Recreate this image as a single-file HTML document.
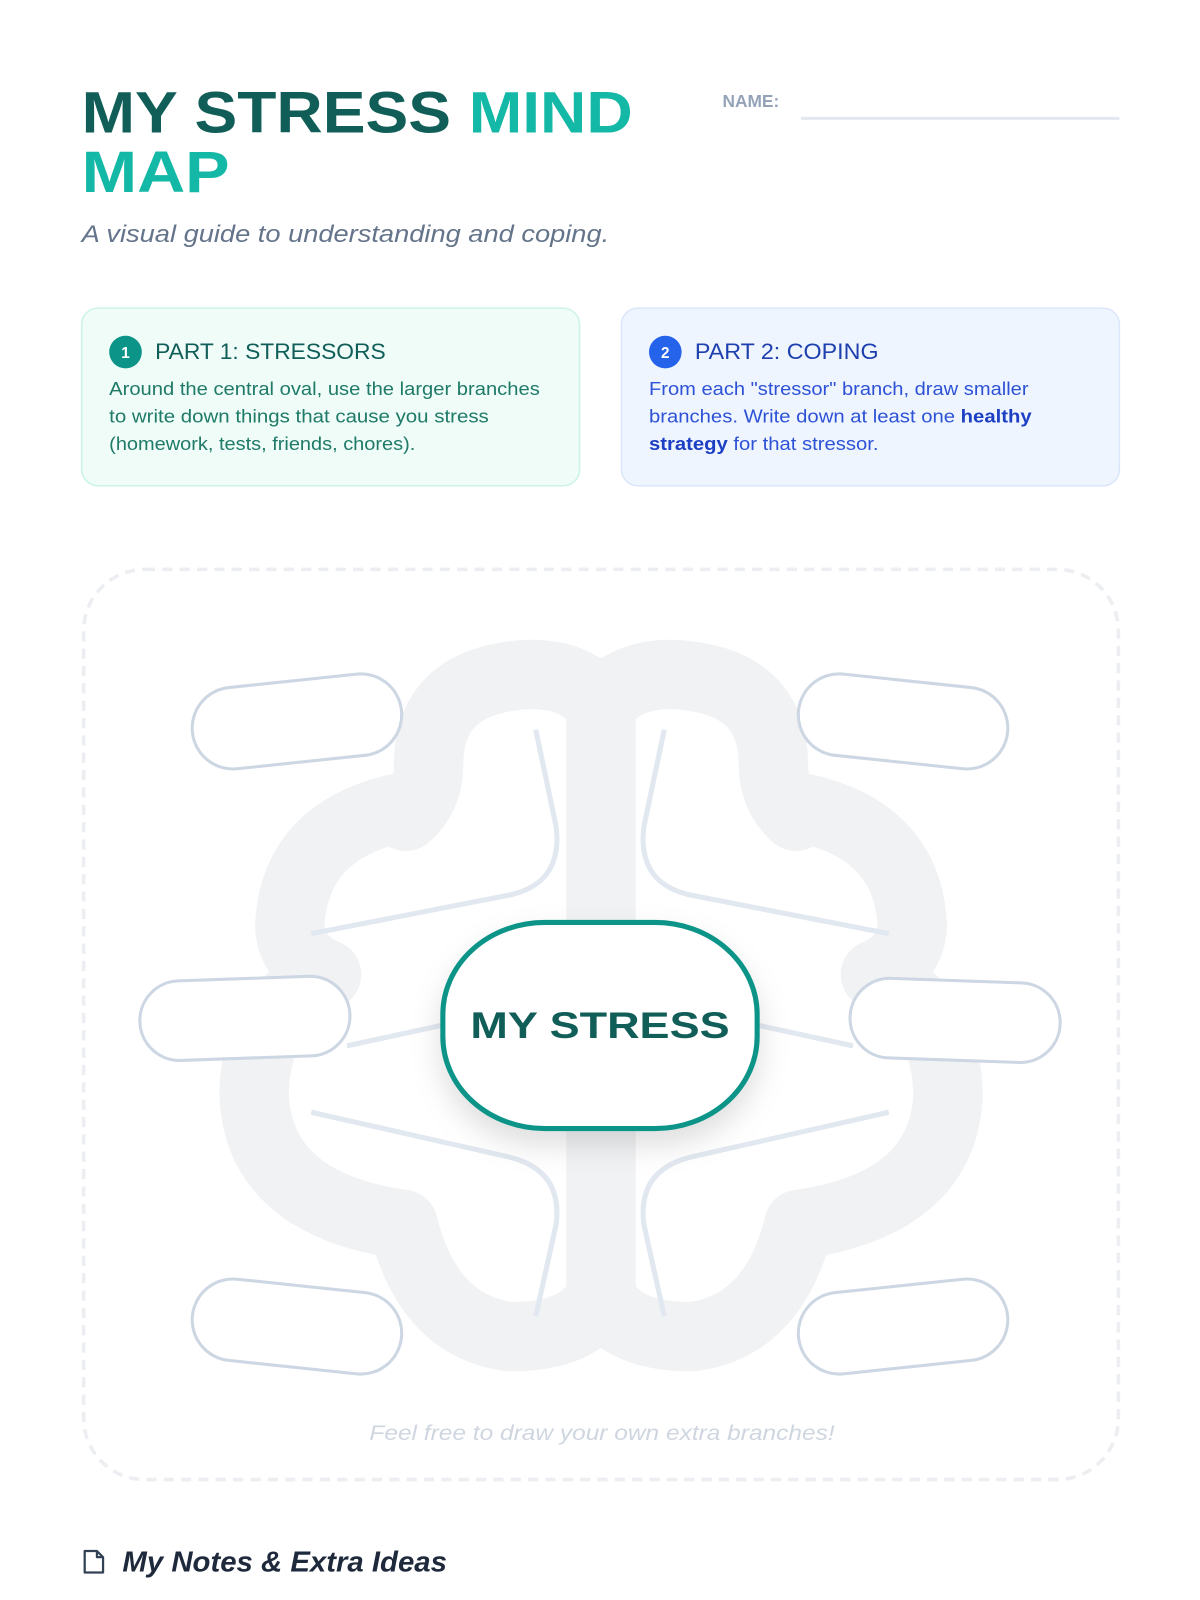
<!DOCTYPE html>
<html><head><meta charset="utf-8"><style>
html,body{margin:0;padding:0;background:#fff;}
svg{display:block;}
text{font-family:"Liberation Sans",sans-serif;}
</style></head><body>
<svg width="1200" height="1600" viewBox="0 0 1176 1568" xmlns="http://www.w3.org/2000/svg">
<defs>
<filter id="sh" x="-30%" y="-30%" width="160%" height="180%"><feDropShadow dx="0" dy="14" stdDeviation="14" flood-color="#000" flood-opacity="0.13"/></filter>
</defs>
<rect width="1176" height="1568" fill="#fff"/>
<!-- Title -->
<text x="80" y="130" font-size="57" font-weight="bold" fill="#115e59" textLength="540" lengthAdjust="spacingAndGlyphs">MY STRESS <tspan fill="#14b8a6">MIND</tspan></text>
<text x="80" y="188" font-size="57" font-weight="bold" fill="#14b8a6" textLength="145" lengthAdjust="spacingAndGlyphs">MAP</text>
<text x="80" y="237" font-size="24" font-style="italic" fill="#64748b" textLength="517" lengthAdjust="spacingAndGlyphs">A visual guide to understanding and coping.</text>
<text x="708" y="105" font-size="17" font-weight="bold" fill="#94a3b8">NAME:</text>
<line x1="785" y1="116" x2="1097" y2="116" stroke="#e2e8f0" stroke-width="3"/>
<!-- Cards -->
<rect x="80" y="302" width="488" height="174" rx="16" fill="#effcf8" stroke="#ccf3e8" stroke-width="1.5"/>
<circle cx="123" cy="345" r="16" fill="#0d9488"/>
<text x="123" y="351" font-size="15" font-weight="bold" fill="#fff" text-anchor="middle">1</text>
<text x="152" y="352" font-size="22" fill="#115e59" textLength="226" lengthAdjust="spacingAndGlyphs">PART 1: STRESSORS</text>
<g font-size="18" fill="#1f7a68">
<text x="107" y="387" textLength="422" lengthAdjust="spacingAndGlyphs">Around the central oval, use the larger branches</text>
<text x="107" y="414" textLength="372" lengthAdjust="spacingAndGlyphs">to write down things that cause you stress</text>
<text x="107" y="441" textLength="300" lengthAdjust="spacingAndGlyphs">(homework, tests, friends, chores).</text>
</g>
<rect x="609" y="302" width="488" height="174" rx="16" fill="#eff5ff" stroke="#dbe6fb" stroke-width="1.5"/>
<circle cx="652" cy="345" r="16" fill="#2563eb"/>
<text x="652" y="351" font-size="15" font-weight="bold" fill="#fff" text-anchor="middle">2</text>
<text x="681" y="352" font-size="22" fill="#1e40af" textLength="180" lengthAdjust="spacingAndGlyphs">PART 2: COPING</text>
<g font-size="18" fill="#2d52d6">
<text x="636" y="387" textLength="372" lengthAdjust="spacingAndGlyphs">From each "stressor" branch, draw smaller</text>
<text x="636" y="414" textLength="375" lengthAdjust="spacingAndGlyphs">branches. Write down at least one <tspan font-weight="bold" fill="#1d3fc4">healthy</tspan></text>
<text x="636" y="441" textLength="225" lengthAdjust="spacingAndGlyphs"><tspan font-weight="bold" fill="#1d3fc4">strategy</tspan> for that stressor.</text>
</g>
<!-- Dashed frame -->
<rect x="82" y="558" width="1014" height="892" rx="60" fill="none" stroke="#eceef2" stroke-width="3.5" stroke-dasharray="10 7"/>
<!-- Brain -->
<g stroke="#f1f2f4" stroke-width="68" fill="none" stroke-linecap="round">
<g id="half">
<path d="M589 690 Q555 650 487 665 Q420 680 420 750 Q420 780 398 800"/>
<path d="M400 790 Q290 810 284 905 Q284 940 320 955"/>
<path d="M320 955 Q249 990 249 1075 Q255 1180 395 1200"/>
<path d="M395 1200 Q420 1300 500 1310 Q570 1310 589 1270"/>
</g>
<use href="#half" transform="translate(1178,0) scale(-1,1)"/>
</g>
<rect x="555" y="690" width="68" height="600" fill="#f1f2f4"/>
<!-- Connectors -->
<g stroke="#e2e8f0" stroke-width="5" fill="none">
<g id="conn">
<path d="M525 715 L545 810 Q552 868 495 878 L305 915"/>
<path d="M340 1025 L432 1005"/>
<path d="M305 1090 L495 1133 Q552 1145 545 1200 L525 1290"/>
</g>
<use href="#conn" transform="translate(1176,0) scale(-1,1)"/>
</g>
<!-- Pills -->
<g fill="#fff" stroke="#cdd6e3" stroke-width="3">
<rect x="-103" y="-40" width="206" height="80" rx="40" transform="translate(291,707) rotate(-6)"/>
<rect x="-103" y="-40" width="206" height="80" rx="40" transform="translate(885,707) rotate(6)"/>
<rect x="-103" y="-39" width="206" height="78" rx="39" transform="translate(240,998) rotate(-2)"/>
<rect x="-103" y="-39" width="206" height="78" rx="39" transform="translate(936,1000) rotate(2)"/>
<rect x="-103" y="-40" width="206" height="80" rx="40" transform="translate(291,1300) rotate(6)"/>
<rect x="-103" y="-40" width="206" height="80" rx="40" transform="translate(885,1300) rotate(-6)"/>
</g>
<!-- Center -->
<rect x="434" y="904" width="308" height="202" rx="100" ry="90" fill="#fff" stroke="#0d9488" stroke-width="5" filter="url(#sh)"/>
<text x="588" y="1017" font-size="36" font-weight="bold" fill="#115e59" text-anchor="middle" textLength="254" lengthAdjust="spacingAndGlyphs">MY STRESS</text>
<text x="590" y="1411" font-size="21" font-style="italic" fill="#cfd6e0" text-anchor="middle" textLength="456" lengthAdjust="spacingAndGlyphs">Feel free to draw your own extra branches!</text>
<!-- Notes -->
<path d="M83 1520 h12 l6 6 v15 h-18 z M95 1520 v6 h6" fill="none" stroke="#334155" stroke-width="2.2" stroke-linejoin="round"/>
<text x="120" y="1540" font-size="28" font-weight="bold" font-style="italic" fill="#1e293b" textLength="318" lengthAdjust="spacingAndGlyphs">My Notes &amp; Extra Ideas</text>
</svg>
</body></html>
